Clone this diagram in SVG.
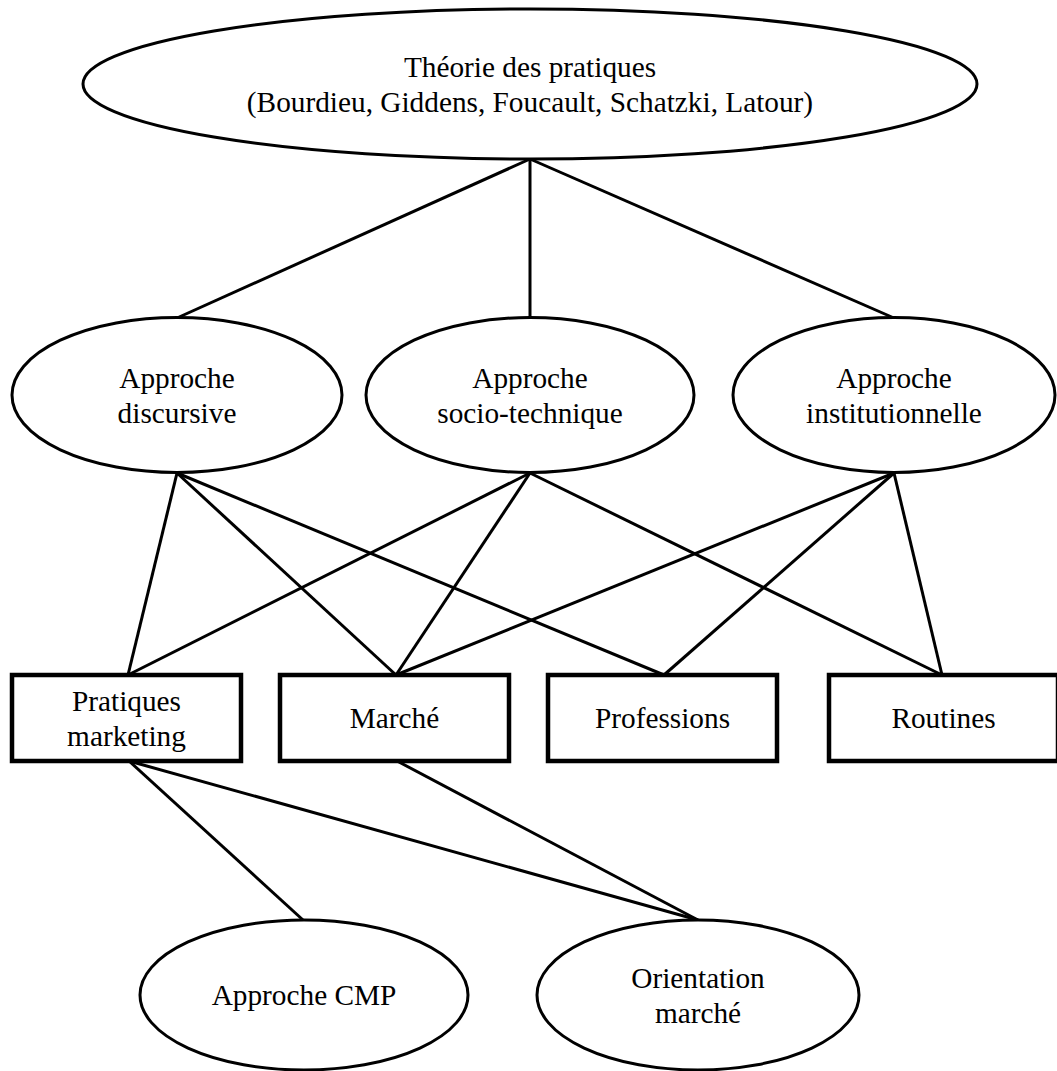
<svg xmlns="http://www.w3.org/2000/svg" width="1057" height="1071" viewBox="0 0 1057 1071">
<style>
.shape{fill:#fff;stroke:#000;stroke-width:3}
.box{fill:#fff;stroke:#000;stroke-width:4.5}
.lbl{font-family:"Liberation Serif","Times New Roman",serif;font-size:29.3px;fill:#000;text-anchor:middle}
#connectors line{stroke:#000;stroke-width:3}
</style>
<rect width="1057" height="1071" fill="#fff"/>
<g id="connectors">
<line x1="530" y1="159" x2="177" y2="318"/>
<line x1="530" y1="159" x2="530" y2="318"/>
<line x1="530" y1="159" x2="894" y2="318"/>
<line x1="177" y1="473" x2="128" y2="675"/>
<line x1="177" y1="473" x2="396" y2="675"/>
<line x1="177" y1="473" x2="664" y2="675"/>
<line x1="530" y1="473" x2="128" y2="675"/>
<line x1="530" y1="473" x2="396" y2="675"/>
<line x1="530" y1="473" x2="942" y2="675"/>
<line x1="894" y1="473" x2="396" y2="675"/>
<line x1="894" y1="473" x2="664" y2="675"/>
<line x1="894" y1="473" x2="942" y2="675"/>
<line x1="129" y1="761" x2="303" y2="920"/>
<line x1="129" y1="761" x2="698" y2="920"/>
<line x1="397" y1="761" x2="698" y2="920"/>
</g>
<g id="theorie">
<ellipse class="shape" cx="530" cy="84" rx="447" ry="75"/>
<text class="lbl" x="530" y="77">Théorie des pratiques</text>
<text class="lbl" x="530" y="112">(Bourdieu, Giddens, Foucault, Schatzki, Latour)</text>
</g>
<g id="discursive">
<ellipse class="shape" cx="177" cy="395" rx="165" ry="77.5"/>
<text class="lbl" x="177" y="388">Approche</text>
<text class="lbl" x="177" y="423">discursive</text>
</g>
<g id="sociotechnique">
<ellipse class="shape" cx="530" cy="395" rx="164" ry="77.5"/>
<text class="lbl" x="530" y="388">Approche</text>
<text class="lbl" x="530" y="423">socio-technique</text>
</g>
<g id="institutionnelle">
<ellipse class="shape" cx="894" cy="395" rx="161" ry="77.5"/>
<text class="lbl" x="894" y="388">Approche</text>
<text class="lbl" x="894" y="423">institutionnelle</text>
</g>
<g id="pratiques">
<rect class="box" x="12" y="675" width="229" height="86"/>
<text class="lbl" x="126.5" y="711">Pratiques</text>
<text class="lbl" x="126.5" y="746">marketing</text>
</g>
<g id="marche">
<rect class="box" x="280" y="675" width="229" height="86"/>
<text class="lbl" x="394.5" y="728">Marché</text>
</g>
<g id="professions">
<rect class="box" x="548" y="675" width="229" height="86"/>
<text class="lbl" x="662.5" y="728">Professions</text>
</g>
<g id="routines">
<rect class="box" x="829" y="675" width="229" height="86"/>
<text class="lbl" x="943.5" y="728">Routines</text>
</g>
<g id="cmp">
<ellipse class="shape" cx="304" cy="995" rx="164" ry="75"/>
<text class="lbl" x="304" y="1005">Approche CMP</text>
</g>
<g id="orientation">
<ellipse class="shape" cx="698" cy="995" rx="161" ry="75"/>
<text class="lbl" x="698" y="988">Orientation</text>
<text class="lbl" x="698" y="1023">marché</text>
</g>
</svg>
